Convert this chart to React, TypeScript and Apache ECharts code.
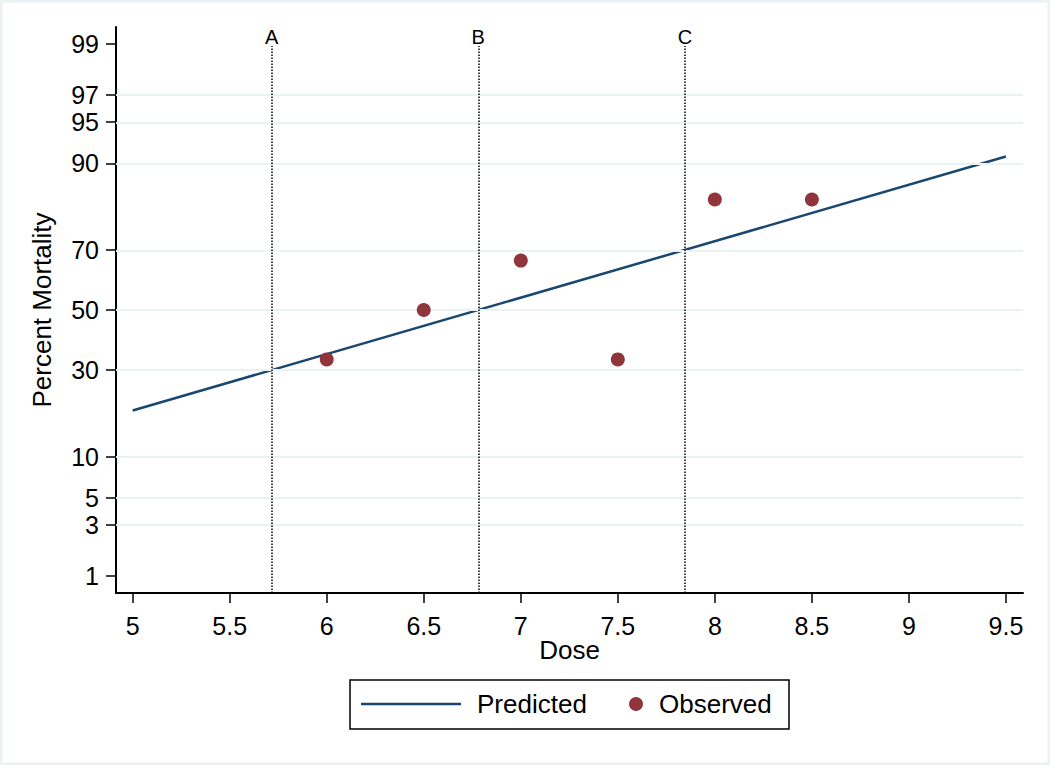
import React, { useEffect, useRef } from "react";
import * as echarts from "echarts";

// ---- data ----
const pctTicks = [1, 3, 5, 10, 30, 50, 70, 90, 95, 97, 99];
const gridPct = [3, 5, 10, 30, 50, 70, 90, 95, 97];
const doseTicks = [5, 5.5, 6, 6.5, 7, 7.5, 8, 8.5, 9, 9.5];
const observedDose = [6, 6.5, 7, 7.5, 8, 8.5];
const observedPct = [33.3, 50, 66.7, 33.3, 83.3, 83.3];
const predictedDose = [5, 9.5];
const predictedPct = [19.0, 91.0];
const refNames = ["A", "B", "C"];
const refDose = [5.716, 6.781, 7.846];

const FONT = "'Liberation Sans', Arial, Helvetica, sans-serif";

// inverse standard normal CDF (Acklam)
function probit(p: number): number {
  const a = [-3.969683028665376e1, 2.209460984245205e2, -2.759285104469687e2, 1.38357751867269e2, -3.066479806614716e1, 2.506628277459239];
  const b = [-5.447609879822406e1, 1.615858368580409e2, -1.556989798598866e2, 6.680131188771972e1, -1.328068155288572e1];
  const c = [-7.784894002430293e-3, -3.223964580411365e-1, -2.400758277161838, -2.549732539343734, 4.374664141464968, 2.938163982698783];
  const d = [7.784695709041462e-3, 3.224671290700398e-1, 2.445134198347617, 3.754408661907416];
  const plow = 0.02425;
  if (p < plow) {
    const q = Math.sqrt(-2 * Math.log(p));
    return (((((c[0] * q + c[1]) * q + c[2]) * q + c[3]) * q + c[4]) * q + c[5]) / ((((d[0] * q + d[1]) * q + d[2]) * q + d[3]) * q + 1);
  }
  if (p > 1 - plow) {
    const q = Math.sqrt(-2 * Math.log(1 - p));
    return -(((((c[0] * q + c[1]) * q + c[2]) * q + c[3]) * q + c[4]) * q + c[5]) / ((((d[0] * q + d[1]) * q + d[2]) * q + d[3]) * q + 1);
  }
  const q = p - 0.5;
  const r = q * q;
  return ((((((a[0] * r + a[1]) * r + a[2]) * r + a[3]) * r + a[4]) * r + a[5]) * q) / (((((b[0] * r + b[1]) * r + b[2]) * r + b[3]) * r + b[4]) * r + 1);
}
const pz = (pct: number) => probit(pct / 100);

const Y_MIN = -2.473;
const Y_MAX = 2.473;
const X_MIN = 4.914;
const X_MAX = 9.588;
const REF_TOP_GAP = 0.02; // small gap under the reference-line labels

export default function App() {
  const ref = useRef<HTMLDivElement>(null);
  useEffect(() => {
    if (!ref.current) return;
    const chart = echarts.init(ref.current, null, { renderer: "svg" });
    const yTickVals = pctTicks.map(pz);
    const option: any = {
      animation: false,
      backgroundColor: "#ffffff",
      textStyle: { fontFamily: FONT },
      grid: { left: 116, right: 27, top: 27, bottom: 172, containLabel: false },
      xAxis: {
        type: "value",
        min: X_MIN,
        max: X_MAX,
        name: "Dose",
        nameLocation: "middle",
        nameGap: 44,
        nameMoveOverlap: false,
        nameTextStyle: { fontSize: 26, color: "#000", fontFamily: FONT },
        axisLine: { onZero: false, lineStyle: { color: "#000", width: 2 } },
        axisTick: { show: true, length: 10, customValues: doseTicks, lineStyle: { color: "#000", width: 1.5 } },
        axisLabel: {
          customValues: doseTicks,
          margin: 20,
          fontSize: 25,
          color: "#000",
          fontFamily: FONT,
          formatter: (v: number) => String(v),
        },
        splitLine: { show: false },
      },
      yAxis: {
        type: "value",
        min: Y_MIN,
        max: Y_MAX,
        name: "Percent Mortality",
        nameLocation: "middle",
        nameGap: 61,
        nameMoveOverlap: false,
        nameTextStyle: { fontSize: 26, color: "#000", fontFamily: FONT },
        axisLine: { onZero: false, lineStyle: { color: "#000", width: 2 } },
        axisTick: { show: true, length: 10, customValues: yTickVals, lineStyle: { color: "#000", width: 1.5 } },
        axisLabel: {
          customValues: yTickVals,
          margin: 17,
          fontSize: 25,
          color: "#000",
          fontFamily: FONT,
          formatter: (v: number) => {
            let best = 0;
            for (let i = 1; i < yTickVals.length; i++) {
              if (Math.abs(yTickVals[i] - v) < Math.abs(yTickVals[best] - v)) best = i;
            }
            return String(pctTicks[best]);
          },
        },
        splitLine: { show: false },
      },
      legend: [
        {
          data: [{ name: "Predicted", icon: "path://M0,0H100V2.5H0Z" }],
          left: 361,
          top: 691,
          padding: 0,
          itemWidth: 100,
          itemHeight: 2.5,
          textStyle: { fontSize: 26, color: "#000", fontFamily: FONT, padding: [0, 0, 0, 11] },
          selectedMode: false,
        },
        {
          data: ["Observed"],
          left: 629,
          top: 691,
          padding: 0,
          itemWidth: 14,
          itemHeight: 14,
          icon: "circle",
          textStyle: { fontSize: 26, color: "#000", fontFamily: FONT, padding: [0, 0, 0, 11] },
          selectedMode: false,
        },
      ],
      graphic: [
        {
          type: "rect",
          shape: { x: 0, y: 0, width: 1050, height: 765 },
          style: { fill: "none", stroke: "#eaf2f3", lineWidth: 5 },
          silent: true,
          z: 100,
        },
        {
          type: "rect",
          shape: { x: 350, y: 680, width: 439, height: 49 },
          style: { fill: "none", stroke: "#000", lineWidth: 1.5 },
          silent: true,
        },
      ],
      series: [
        {
          name: "grid",
          type: "line",
          data: [],
          z: 1,
          silent: true,
          markLine: {
            silent: true,
            symbol: "none",
            animation: false,
            label: { show: false },
            lineStyle: { color: "#eaf2f3", width: 2, type: "solid" },
            data: gridPct.map((p) => ({ yAxis: pz(p) })),
          },
        },
        {
          name: "refs",
          type: "line",
          data: [],
          z: 3,
          silent: true,
          markLine: {
            silent: true,
            symbol: "none",
            animation: false,
            lineStyle: { color: "#111", width: 1.6, type: [1.5, 1.5] },
            label: {
              show: true,
              position: "end",
              distance: -1,
              fontSize: 20,
              color: "#000",
              fontFamily: FONT,
              formatter: (p: any) => p.name,
            },
            data: refDose.map((x, i) => [
              { name: refNames[i], coord: [x, Y_MIN] },
              { coord: [x, pz(99) - REF_TOP_GAP] },
            ]),
          },
        },
        {
          name: "Predicted",
          type: "line",
          data: predictedDose.map((x, i) => [x, pz(predictedPct[i])]),
          symbol: "none",
          showSymbol: false,
          z: 4,
          lineStyle: { color: "#1a476f", width: 2.5 },
          itemStyle: { color: "#1a476f" },
        },
        {
          name: "Observed",
          type: "scatter",
          data: observedDose.map((x, i) => [x, pz(observedPct[i])]),
          symbol: "circle",
          symbolSize: 14,
          z: 5,
          itemStyle: { color: "#90353b", opacity: 1 },
        },
      ],
    };
    chart.setOption(option);
    return () => chart.dispose();
  }, []);
  return (
    <div
      ref={ref}
      style={{ position: "absolute", left: 0, top: 0, width: 1050, height: 765, background: "#fff" }}
    />
  );
}
